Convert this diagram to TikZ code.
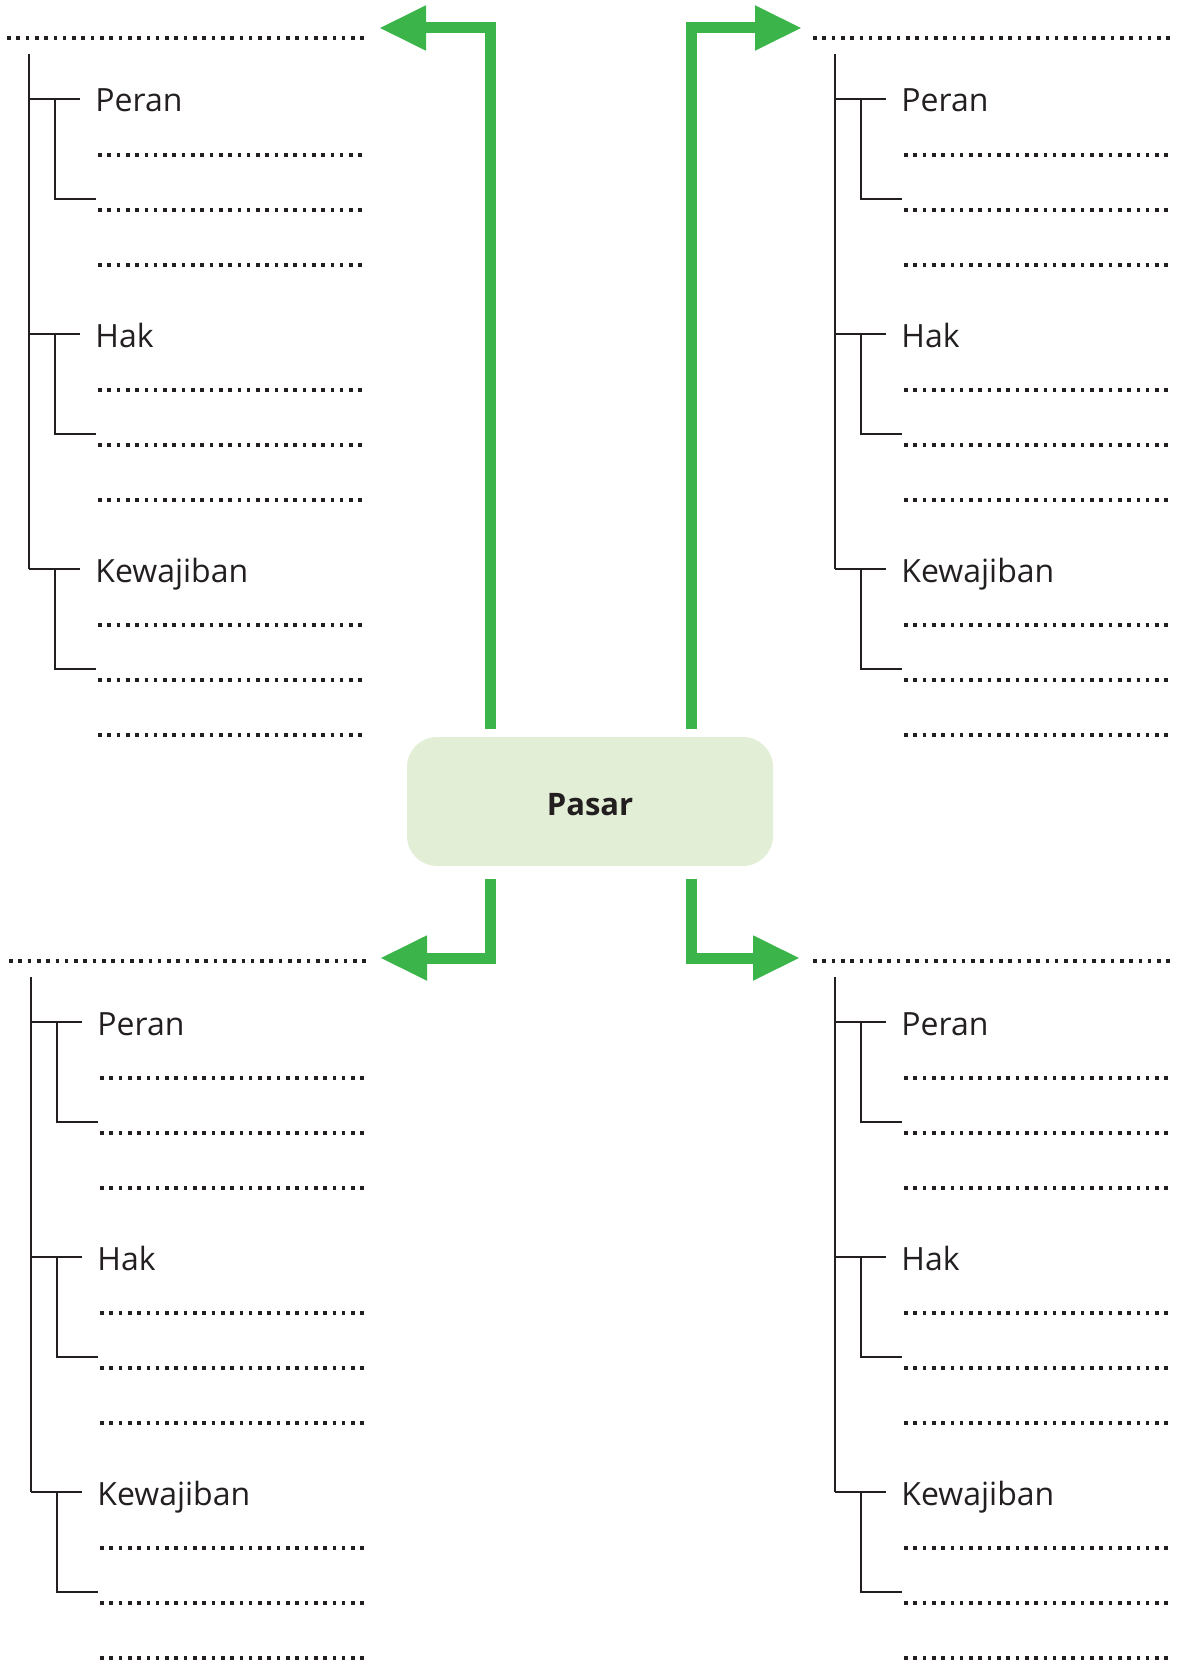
\documentclass[tikz,border=0pt]{standalone}
\usepackage{fontspec}
\setmainfont{Open Sans}
\usetikzlibrary{arrows.meta}
\definecolor{arrowgreen}{HTML}{3BB54A}
\definecolor{boxgreen}{HTML}{E2EFD6}
\definecolor{ink}{HTML}{231F20}
\tikzset{
  tree/.style={draw=ink, line width=1pt},
  blank/.style={draw=ink, line width=1.8pt, dash pattern=on 1.8pt off 2.85pt},
  item/.style={anchor=base west, inner sep=0pt, text=ink, font=\fontsize{16}{18}\selectfont},
  flow/.style={draw=arrowgreen, line width=5.5pt, -{Triangle[length=23.5pt,width=21pt]}},
  pasar/.style={fill=boxgreen, rounded corners=15pt, minimum width=183pt, minimum height=64.5pt,
    text height=14pt, text depth=0pt, text=ink, font=\bfseries\fontsize{15.5}{18}\selectfont}
}
\begin{document}
\begin{tikzpicture}[x=0.5pt, y=-0.5pt]
    \useasboundingbox (0,0) rectangle (1178,1664);
    % the four answer blocks
    \foreach \dx/\dy/\b in {0/0/a, 806/0/b, 2/923/c, 806/923/d} {
      \begin{scope}[shift={(\dx,\dy)}]
        \coordinate (top\b) at (29,54);
        \draw[blank] (7,38) -- (369,38);
        \foreach \s/\txt [count=\k] in {0/Peran, 235/Hak, 470/Kewajiban} {
          \coordinate (br\b\k) at (29,99+\s);
          \node[item] (lbl\b\k) at (95,112+\s) {\txt};
          \draw[tree] (br\b\k) -- ++(51,0);
          \draw[tree] ([xshift=13pt]br\b\k) |- ++(41,100);
          \foreach \r in {56,111,166}
            \draw[blank] (98,99+\s+\r) -- (363,99+\s+\r);
        }
        \draw[tree] (top\b) -- (br\b3);
      \end{scope}
    }
    % centre box and arrows
    \node[pasar] (pasar) at (590,801.5) {Pasar};
    \coordinate (tipa) at (379,28);
    \coordinate (tipb) at (802,28);
    \coordinate (tipc) at (380,958);
    \coordinate (tipd) at (800,958);
    \draw[flow] ([shift={(-100,-8)}]pasar.north) |- (tipa);
    \draw[flow] ([shift={(101,-8)}]pasar.north) |- (tipb);
    \draw[flow] ([shift={(-100,13)}]pasar.south) |- (tipc);
    \draw[flow] ([shift={(101,13)}]pasar.south) |- (tipd);
\end{tikzpicture}
\end{document}
